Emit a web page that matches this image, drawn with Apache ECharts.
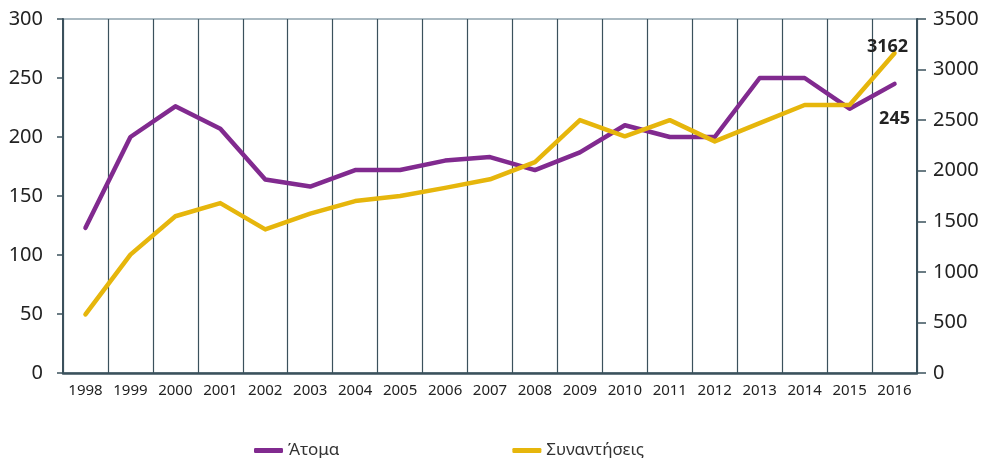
<!DOCTYPE html>
<html>
<head>
<meta charset="utf-8">
<script src="https://cdn.jsdelivr.net/npm/echarts@6/dist/echarts.min.js"></script>
<style>
  html, body { margin: 0; padding: 0; background: #fff; }
  #chart { width: 982px; height: 458px; }
</style>
</head>
<body>
<div id="chart"></div>
<script>
const years = ['1998', '1999', '2000', '2001', '2002', '2003', '2004', '2005', '2006', '2007',
  '2008', '2009', '2010', '2011', '2012', '2013', '2014', '2015', '2016'];
// persons (left axis)
const atoma = [123, 200, 226, 207, 164, 158, 172, 172, 180, 183, 172, 187, 210, 200, 200, 250, 250, 224, 245];
// meetings (right axis)
const synantiseis = [580, 1170, 1550, 1680, 1420, 1575, 1700, 1750, 1830, 1915, 2085, 2500, 2340, 2500, 2290, 2470, 2650, 2650, 3162];
const leftTicks = { min: 0, max: 300, interval: 50 };
const rightTicks = { min: 0, max: 3500, interval: 500 };

const axisColor = '#3b515c';
const font = 'Noto Sans';

// only the final point carries a value label
function withLastLabel(values, label) {
  return values.map((v, i) => i === values.length - 1 ? { value: v, label: label } : v);
}

const chart = echarts.init(document.getElementById('chart'));
chart.setOption({
  animation: false,
  textStyle: { fontFamily: font },
  grid: {
    left: 63, right: 65, top: 19, bottom: 85,
    outerBoundsMode: 'none', containLabel: false,
    show: true, borderColor: '#8ea3ad', borderWidth: 1.5
  },
  legend: {
    left: 249, top: 437,
    itemGap: 173,
    itemWidth: 29, itemHeight: 5,
    icon: 'roundRect',
    textStyle: { fontSize: 17, color: '#333', fontFamily: font },
    data: ['Άτομα', 'Συναντήσεις']
  },
  xAxis: {
    type: 'category',
    data: years,
    boundaryGap: true,
    axisLine: { lineStyle: { color: axisColor, width: 2.5 } },
    axisTick: { show: false },
    splitLine: { show: true, interval: 0, lineStyle: { color: axisColor, width: 1.2 } },
    axisLabel: { interval: 0, margin: 10, fontSize: 15, color: '#222', fontFamily: font }
  },
  yAxis: [
    {
      type: 'value', position: 'left',
      min: leftTicks.min, max: leftTicks.max, interval: leftTicks.interval,
      axisLine: { show: true, lineStyle: { color: axisColor, width: 2 } },
      axisTick: { show: true, length: 6, lineStyle: { color: axisColor, width: 1.5 } },
      splitLine: { show: false },
      axisLabel: { margin: 20, fontSize: 20, color: '#222', fontFamily: font }
    },
    {
      type: 'value', position: 'right',
      min: rightTicks.min, max: rightTicks.max, interval: rightTicks.interval,
      axisLine: { show: true, lineStyle: { color: axisColor, width: 2 } },
      axisTick: { show: true, length: 9, lineStyle: { color: axisColor, width: 1.5 } },
      splitLine: { show: false },
      axisLabel: { margin: 16, fontSize: 20, color: '#222', fontFamily: font, formatter: v => String(v) }
    }
  ],
  series: [
    {
      name: 'Άτομα',
      type: 'line',
      yAxisIndex: 0,
      data: withLastLabel(atoma, {
        show: true, position: 'bottom', offset: [0, 20],
        fontSize: 18, fontWeight: 'bold', color: '#222', fontFamily: font
      }),
      symbol: 'circle', symbolSize: 1, showSymbol: true,
      color: '#812a8f',
      lineStyle: { width: 4.5, cap: 'round', join: 'round' }
    },
    {
      name: 'Συναντήσεις',
      type: 'line',
      yAxisIndex: 1,
      data: withLastLabel(synantiseis, {
        show: true, position: 'top', offset: [-7, 8],
        fontSize: 18, fontWeight: 'bold', color: '#222', fontFamily: font
      }),
      symbol: 'circle', symbolSize: 1, showSymbol: true,
      color: '#e6b60c',
      lineStyle: { width: 4.5, cap: 'round', join: 'round' }
    }
  ]
});
</script>
</body>
</html>
